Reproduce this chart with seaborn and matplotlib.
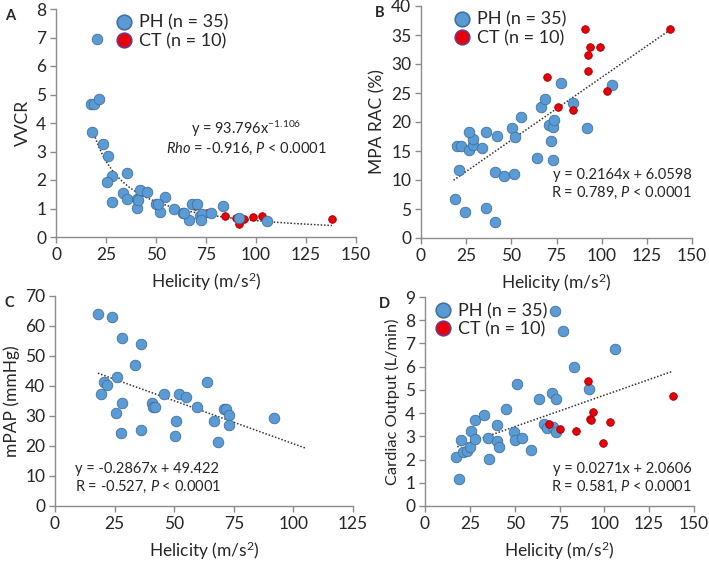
import numpy as np
import pandas as pd
import matplotlib
matplotlib.use("Agg")
import matplotlib.pyplot as plt
from matplotlib.lines import Line2D
import seaborn as sns

# ---------------- data ----------------
# Panel A: VVCR vs helicity
a_ph_x = [20.4, 17.4, 19.1, 21.4, 18.1, 23.4, 25.8, 27.9, 25.4, 35.6, 28.1, 33.3, 35.6, 40.3, 40.6,
          41.8, 45.7, 50.2, 51.8, 54.5, 59.0, 63.7, 66.6, 68.2, 70.4, 71.9, 73.1, 72.7, 77.3, 83.4,
          91.6, 105.4, 41.0, 64.0, 50.9]
a_ph_y = [6.95, 4.67, 4.65, 4.84, 3.70, 3.27, 2.85, 2.13, 1.93, 2.24, 1.24, 1.54, 1.33, 1.34, 1.02,
          1.64, 1.57, 1.17, 0.86, 1.41, 1.00, 0.84, 0.58, 1.16, 1.16, 0.75, 0.81, 0.60, 0.84, 1.10,
          0.67, 0.56, 1.30, 0.84, 1.15]
a_ct_x = [69.6, 75.6, 84.3, 89.8, 91.6, 93.8, 98.7, 102.8, 137.8, 92.2]
a_ct_y = [1.10, 0.83, 0.72, 0.67, 0.47, 0.63, 0.69, 0.72, 0.63, 0.66]

# Panel B: MPA RAC vs helicity
b_ph_x = [19.0, 24.4, 36.2, 41.0, 21.2, 41.0, 46.2, 51.2, 20.0, 22.4, 26.4, 28.6, 29.0, 26.5, 34.0,
          36.2, 42.1, 50.6, 52.3, 55.1, 64.1, 66.5, 68.5, 70.9, 71.7, 73.3, 73.7, 73.3, 77.6, 83.9,
          92.0, 105.9]
b_ph_y = [6.77, 4.53, 5.16, 2.81, 11.76, 11.42, 10.61, 11.07, 15.78, 15.83, 15.2, 15.95, 17.1, 18.36, 15.55,
          18.19, 17.67, 18.93, 17.33, 20.88, 13.83, 22.55, 23.98, 19.5, 16.7, 19.1, 20.42, 13.48, 26.68, 23.24,
          19.05, 26.33]
b_ct_x = [90.7, 137.6, 93.7, 99.2, 92.2, 92.4, 69.6, 102.9, 75.6, 84.4]
b_ct_y = [36.03, 36.03, 33.0, 33.0, 31.55, 28.86, 27.8, 25.4, 22.5, 22.0]

# Panel C: mPAP vs helicity (PH only)
c_ph_x = [18.1, 23.7, 28.2, 35.9, 33.7, 26.2, 20.6, 21.7, 19.5, 28.3, 25.7, 27.6, 35.9, 40.5, 41.1,
          41.8, 45.9, 52.0, 54.8, 50.9, 50.2, 59.5, 63.9, 66.5, 68.2, 70.8, 71.7, 72.8, 73.1, 91.9]
c_ph_y = [64.1, 62.9, 56.1, 54.1, 47.1, 43.0, 41.2, 40.2, 37.2, 34.3, 31.1, 24.4, 25.3, 34.3, 33.1,
          33.1, 37.2, 37.2, 36.2, 28.3, 23.2, 33.1, 41.2, 28.3, 21.2, 32.3, 32.3, 30.4, 27.1, 29.3]

# Panel D: cardiac output vs helicity
d_ph_x = [17.5, 18.7, 20.3, 21.4, 23.3, 24.9, 25.7, 27.9, 28.1, 33.1, 35.3, 35.7, 40.3, 40.3, 41.4,
          45.4, 49.7, 50.4, 51.5, 54.3, 58.9, 63.7, 66.3, 67.9, 70.7, 71.3, 72.8, 73.3, 72.6, 77.2,
          83.3, 91.4, 105.7]
d_ph_y = [2.11, 1.18, 2.86, 2.33, 2.35, 2.54, 3.23, 3.72, 2.90, 3.93, 2.91, 2.02, 3.50, 2.80, 2.54,
          4.18, 3.19, 2.86, 5.24, 2.91, 2.40, 4.61, 3.55, 3.37, 4.88, 3.40, 3.17, 4.59, 8.40, 7.52,
          5.99, 5.04, 6.76]
d_ct_x = [69.3, 75.0, 84.1, 90.7, 92.2, 93.5, 99.2, 103.1, 138.2, 92.4]
d_ct_y = [3.55, 3.33, 3.24, 5.37, 3.75, 4.05, 2.73, 3.63, 4.75, 3.70]

# fits
a_fit = (93.796, -1.106, 18, 138)
b_fit = (0.2164, 6.0598, 18, 138)
c_fit = (-0.2867, 49.422, 18, 105)
d_fit = (0.0271, 2.0606, 18, 138)

# ---------------- style ----------------
sns.set_theme(style="white")
plt.rcParams['font.family'] = ['Lato', 'DejaVu Sans']
plt.rcParams['mathtext.fontset'] = 'custom'
plt.rcParams['mathtext.rm'] = 'Lato'
plt.rcParams['mathtext.it'] = 'Lato:italic'
plt.rcParams['mathtext.bf'] = 'Lato:bold'

BLUE = '#5B9BD5'
BLUE_E = '#41719C'
RED = '#E8000B'
RED_E = '#A00000'
TXT = '#262626'
SPINE = '#8C8C8C'
LINE_C = '#333333'
DOT = (0, (1, 1.2))

fig = plt.figure(figsize=(7.09, 5.63), dpi=100)


def make_ax(rect):
    ax = fig.add_axes(rect)
    sns.despine(ax=ax)
    for s in ['left', 'bottom']:
        ax.spines[s].set_color(SPINE)
        ax.spines[s].set_linewidth(1.0)
    ax.tick_params(axis='both', which='both', direction='out', length=4, width=1,
                   color=SPINE, labelsize=12.5, labelcolor=TXT, pad=3, left=True, bottom=True)
    return ax


def scatter(ax, px, py, cx=None, cy=None, red_z=4):
    dph = pd.DataFrame({'x': px, 'y': py})
    sns.scatterplot(data=dph, x='x', y='y', ax=ax, color=BLUE, edgecolor=BLUE_E,
                    linewidth=0.6, s=58, legend=False, zorder=3)
    if cx is not None:
        dct = pd.DataFrame({'x': cx, 'y': cy})
        sns.scatterplot(data=dct, x='x', y='y', ax=ax, color=RED, edgecolor=RED_E,
                        linewidth=0.6, s=30, legend=False, zorder=red_z)


def legend(ax, loc_xy):
    handles = [Line2D([], [], marker='o', linestyle='', markersize=10.5, markerfacecolor=BLUE,
                      markeredgecolor=BLUE_E, markeredgewidth=1.2, label='PH (n = 35)'),
               Line2D([], [], marker='o', linestyle='', markersize=10.5, markerfacecolor=RED,
                      markeredgecolor='#6E3A8A', markeredgewidth=1.2, label='CT (n = 10)')]
    ax.legend(handles=handles, loc='upper left', bbox_to_anchor=loc_xy, frameon=False,
              fontsize=13, handletextpad=0.35, labelspacing=0.12, borderaxespad=0, borderpad=0,
              handlelength=1.0, labelcolor=TXT)


def setup(ax, xmax, ymax, ystep, ylabel, letter, ylsize=12.5):
    ax.set_xlim(0, xmax)
    ax.set_ylim(0, ymax)
    ax.set_xticks(np.arange(0, xmax + 1, 25))
    ax.set_yticks(np.arange(0, ymax + ystep / 2, ystep))
    ax.set_xlabel('Helicity (m/s$^2$)', fontsize=12.5, color=TXT, labelpad=6)
    ax.set_ylabel(ylabel, fontsize=ylsize, color=TXT, labelpad=4)
    ax.text(-0.17, 1.0, letter, transform=ax.transAxes, fontsize=10.5, fontweight='bold',
            color=TXT, ha='left', va='top')


def trend_linear(ax, fit):
    m, c, x0, x1 = fit
    xs = np.linspace(x0, x1, 50)
    sns.lineplot(x=xs, y=m * xs + c, ax=ax, color=LINE_C, linestyle=DOT, linewidth=1.1, zorder=2)


# ---------- Panel A ----------
axA = make_ax([56 / 709, 1 - 237 / 563, 300 / 709, 228 / 563])
scatter(axA, a_ph_x, a_ph_y, a_ct_x, a_ct_y, red_z=2.5)
k, p, x0, x1 = a_fit
xs = np.linspace(x0, x1, 200)
sns.lineplot(x=xs, y=k * xs ** p, ax=axA, color=LINE_C, linestyle=DOT, linewidth=1.1, zorder=2)
setup(axA, 150, 8, 1, 'VVCR', 'A')
axA.text(0.635, 0.475, 'y = 93.796x$^{-1.106}$', transform=axA.transAxes, fontsize=10.5,
         color=TXT, ha='center', va='center')
axA.text(0.635, 0.385, r'$\it{Rho}$ = -0.916, $\it{P}$ < 0.0001', transform=axA.transAxes,
         fontsize=10.5, color=TXT, ha='center', va='center')
legend(axA, (0.197, 0.975))

# ---------- Panel B ----------
axB = make_ax([421 / 709, 1 - 238 / 563, 271 / 709, 232 / 563])
scatter(axB, b_ph_x, b_ph_y, b_ct_x, b_ct_y)
trend_linear(axB, b_fit)
setup(axB, 150, 40, 5, 'MPA RAC (%)', 'B')
axB.text(1.0, 0.27, 'y = 0.2164x + 6.0598', transform=axB.transAxes, fontsize=10.5,
         color=TXT, ha='right', va='center')
axB.text(1.0, 0.195, r'R = 0.789, $\it{P}$ < 0.0001', transform=axB.transAxes, fontsize=10.5,
         color=TXT, ha='right', va='center')
legend(axB, (0.118, 0.975))

# ---------- Panel C ----------
axC = make_ax([55 / 709, 57 / 563, 298 / 709, 210 / 563])
scatter(axC, c_ph_x, c_ph_y)
trend_linear(axC, c_fit)
setup(axC, 125, 70, 10, 'mPAP (mmHg)', 'C')
axC.text(0.068, 0.175, 'y = -0.2867x + 49.422', transform=axC.transAxes, fontsize=10.5,
         color=TXT, ha='left', va='center')
axC.text(0.068, 0.09, r'R = -0.527, $\it{P}$ < 0.0001', transform=axC.transAxes, fontsize=10.5,
         color=TXT, ha='left', va='center')

# ---------- Panel D ----------
axD = make_ax([425 / 709, 57 / 563, 269 / 709, 209 / 563])
scatter(axD, d_ph_x, d_ph_y, d_ct_x, d_ct_y)
trend_linear(axD, d_fit)
setup(axD, 150, 9, 1, 'Cardiac Output (L/min)', 'D', ylsize=11.8)
axD.text(0.99, 0.175, 'y = 0.0271x + 2.0606', transform=axD.transAxes, fontsize=10.5,
         color=TXT, ha='right', va='center')
axD.text(0.99, 0.09, r'R = 0.581, $\it{P}$ < 0.0001', transform=axD.transAxes, fontsize=10.5,
         color=TXT, ha='right', va='center')
legend(axD, (0.033, 0.97))

fig.savefig('out.png', dpi=100)
